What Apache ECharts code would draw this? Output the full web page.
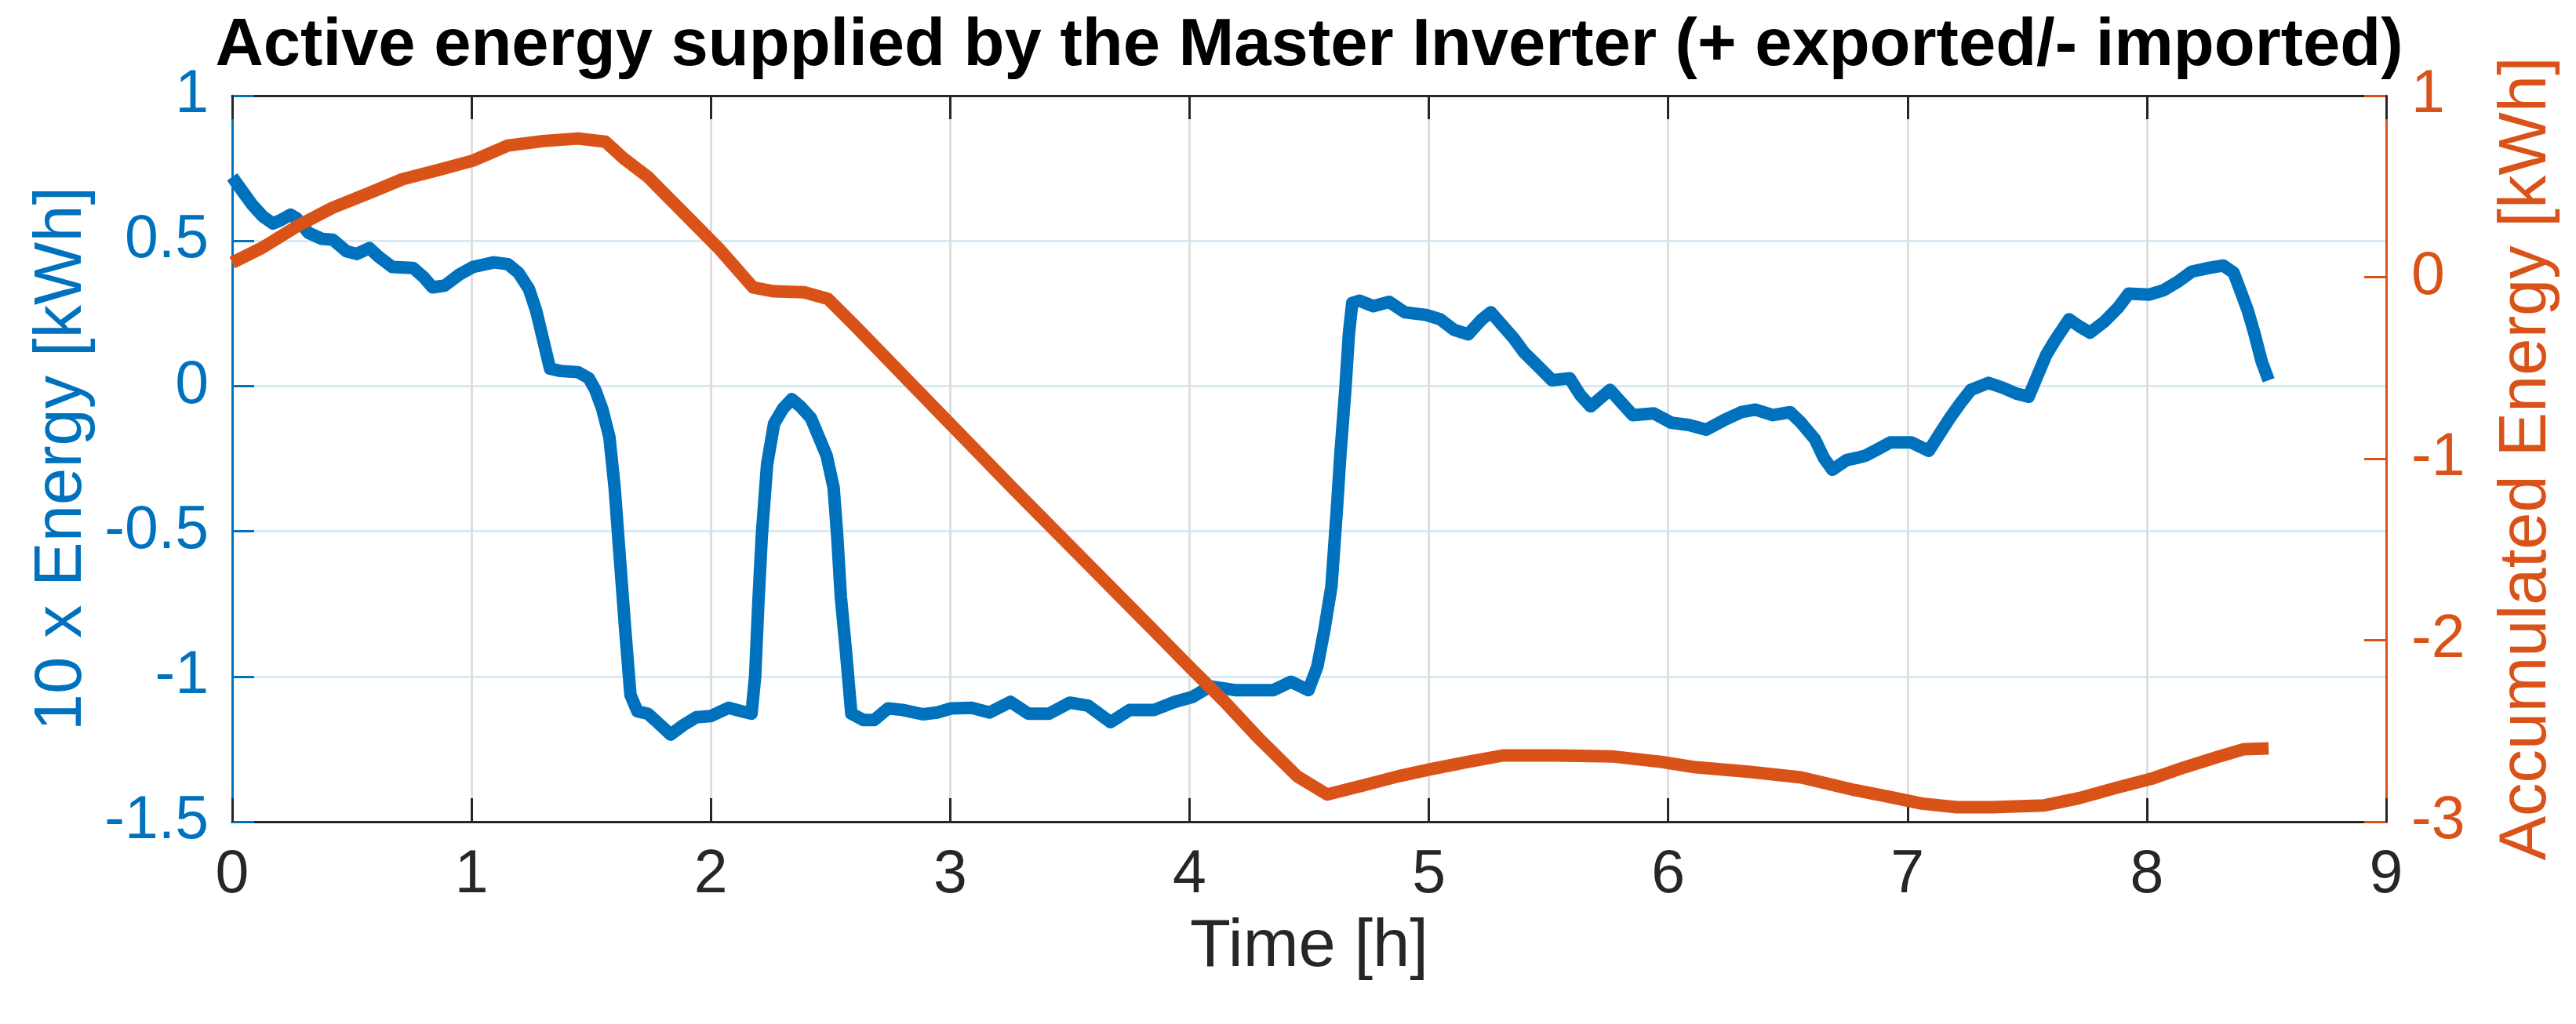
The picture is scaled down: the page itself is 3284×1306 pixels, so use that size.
<!DOCTYPE html>
<html>
<head>
<meta charset="utf-8">
<script src="https://cdn.jsdelivr.net/npm/echarts@6/dist/echarts.min.js"></script>
<style>
  html, body { margin: 0; padding: 0; background: #fff; }
  #chart { width: 3284px; height: 1306px; }
</style>
</head>
<body>
<div id="chart"></div>
<script>
// time [h] and 10 x energy [kWh] (left axis)
var energyTime = [0, 0.04, 0.083, 0.127, 0.17, 0.2, 0.244, 0.27, 0.318, 0.375, 0.42, 0.478, 0.52, 0.573, 0.61, 0.669, 0.756, 0.8, 0.837, 0.888, 0.947, 1.006, 1.093, 1.152, 1.196, 1.24, 1.27, 1.3, 1.328, 1.372, 1.445, 1.49, 1.517, 1.546, 1.576, 1.598, 1.62, 1.642, 1.664, 1.693, 1.737, 1.78, 1.832, 1.884, 1.94, 2.0, 2.074, 2.13, 2.17, 2.185, 2.198, 2.213, 2.235, 2.264, 2.301, 2.338, 2.374, 2.418, 2.455, 2.484, 2.513, 2.528, 2.543, 2.565, 2.587, 2.638, 2.682, 2.74, 2.8, 2.886, 2.945, 3.004, 3.09, 3.165, 3.252, 3.326, 3.413, 3.5, 3.575, 3.67, 3.75, 3.853, 3.94, 4.014, 4.087, 4.19, 4.292, 4.35, 4.424, 4.497, 4.534, 4.564, 4.593, 4.615, 4.63, 4.651, 4.666, 4.68, 4.71, 4.768, 4.834, 4.9, 4.988, 5.047, 5.105, 5.164, 5.222, 5.259, 5.303, 5.354, 5.398, 5.457, 5.515, 5.588, 5.632, 5.676, 5.757, 5.808, 5.852, 5.94, 6.013, 6.086, 6.159, 6.232, 6.305, 6.364, 6.437, 6.51, 6.555, 6.613, 6.65, 6.686, 6.745, 6.789, 6.826, 6.87, 6.928, 7.016, 7.089, 7.133, 7.177, 7.22, 7.265, 7.338, 7.396, 7.455, 7.506, 7.543, 7.58, 7.616, 7.675, 7.719, 7.763, 7.821, 7.88, 7.924, 8.011, 8.07, 8.129, 8.187, 8.26, 8.319, 8.363, 8.392, 8.421, 8.45, 8.48, 8.509];
var energy10x = [0.72, 0.674, 0.625, 0.585, 0.56, 0.57, 0.59, 0.577, 0.528, 0.507, 0.504, 0.464, 0.455, 0.475, 0.447, 0.41, 0.407, 0.375, 0.34, 0.346, 0.383, 0.41, 0.426, 0.42, 0.39, 0.334, 0.26, 0.157, 0.06, 0.052, 0.048, 0.027, -0.013, -0.078, -0.175, -0.35, -0.595, -0.837, -1.063, -1.12, -1.128, -1.16, -1.2, -1.168, -1.14, -1.136, -1.108, -1.12, -1.128, -1.0, -0.756, -0.514, -0.27, -0.13, -0.078, -0.045, -0.07, -0.11, -0.183, -0.24, -0.35, -0.514, -0.724, -0.918, -1.128, -1.15, -1.15, -1.11, -1.115, -1.13, -1.124, -1.11, -1.108, -1.124, -1.087, -1.128, -1.128, -1.09, -1.1, -1.157, -1.115, -1.115, -1.087, -1.07, -1.034, -1.047, -1.047, -1.047, -1.018, -1.047, -0.966, -0.837, -0.69, -0.433, -0.24, -0.013, 0.18, 0.286, 0.294, 0.275, 0.29, 0.254, 0.245, 0.23, 0.194, 0.178, 0.23, 0.254, 0.213, 0.165, 0.116, 0.068, 0.02, 0.027, -0.03, -0.07, -0.013, -0.06, -0.1, -0.094, -0.126, -0.134, -0.15, -0.118, -0.09, -0.081, -0.1, -0.09, -0.126, -0.183, -0.247, -0.288, -0.255, -0.247, -0.239, -0.22, -0.194, -0.194, -0.223, -0.166, -0.11, -0.06, -0.013, 0.011, -0.005, -0.026, -0.037, 0.036, 0.108, 0.157, 0.23, 0.205, 0.184, 0.221, 0.27, 0.318, 0.315, 0.33, 0.359, 0.394, 0.407, 0.415, 0.39, 0.326, 0.262, 0.18, 0.084, 0.02];

// time [h] and accumulated energy [kWh] (right axis)
var accTime = [0, 0.127, 0.27, 0.42, 0.566, 0.712, 0.859, 1.006, 1.152, 1.3, 1.445, 1.56, 1.635, 1.737, 1.884, 2.03, 2.177, 2.264, 2.39, 2.49, 2.609, 2.828, 3.0, 3.267, 3.56, 3.853, 4.006, 4.145, 4.292, 4.45, 4.575, 4.725, 4.871, 5.01, 5.164, 5.31, 5.53, 5.764, 5.969, 6.115, 6.335, 6.555, 6.78, 6.913, 7.06, 7.206, 7.352, 7.572, 7.718, 7.865, 8.018, 8.158, 8.304, 8.407, 8.509];
var accEnergy = [0.08, 0.163, 0.28, 0.383, 0.46, 0.54, 0.59, 0.642, 0.725, 0.75, 0.764, 0.746, 0.655, 0.552, 0.357, 0.163, -0.057, -0.078, -0.083, -0.12, -0.277, -0.575, -0.808, -1.17, -1.56, -1.95, -2.155, -2.337, -2.544, -2.75, -2.85, -2.8, -2.75, -2.71, -2.67, -2.635, -2.635, -2.64, -2.67, -2.7, -2.725, -2.756, -2.826, -2.86, -2.9, -2.92, -2.92, -2.91, -2.87, -2.816, -2.764, -2.7, -2.64, -2.6, -2.596];

var xTicks = [0, 9, 1];        // min, max, step
var leftTicks = [-1.5, 1, 0.5];
var rightTicks = [-3, 1, 1];

var blue = '#0072BD';
var orange = '#D95319';
var dark = '#262626';
var font = 'Liberation Sans, Arial, Helvetica, sans-serif';

function pairs(xs, ys) {
  var out = [];
  for (var i = 0; i < xs.length; i++) out.push([xs[i], ys[i]]);
  return out;
}

var myChart = echarts.init(document.getElementById('chart'));

var option = {
  backgroundColor: '#fff',
  animation: false,
  title: {
    text: 'Active energy supplied by the Master Inverter (+ exported/- imported)',
    left: 1669,
    top: 17,
    textAlign: 'center',
    padding: 0,
    textStyle: { fontFamily: font, fontSize: 85, fontWeight: 'bold', color: '#000' }
  },
  grid: { left: 296, right: 242, top: 122, bottom: 258, containLabel: false },
  xAxis: [{
    type: 'value',
    position: 'bottom',
    min: xTicks[0], max: xTicks[1], interval: xTicks[2],
    name: 'Time [h]',
    nameLocation: 'middle',
    nameGap: 118,
    nameTextStyle: { fontFamily: font, fontSize: 85, color: dark },
    axisLine: { show: true, onZero: false, lineStyle: { color: dark, width: 3 } },
    axisTick: { show: true, inside: true, length: 30, lineStyle: { color: dark, width: 3 } },
    axisLabel: { fontFamily: font, fontSize: 77, color: dark, margin: 30 },
    splitLine: { show: true, lineStyle: { color: '#dedede', width: 3 } }
  }, {
    type: 'value',
    position: 'top',
    min: xTicks[0], max: xTicks[1], interval: xTicks[2],
    axisLine: { show: true, onZero: false, lineStyle: { color: dark, width: 3 } },
    axisTick: { show: true, inside: true, length: 30, lineStyle: { color: dark, width: 3 } },
    axisLabel: { show: false },
    splitLine: { show: false }
  }],
  yAxis: [{
    type: 'value',
    position: 'left',
    min: leftTicks[0], max: leftTicks[1], interval: leftTicks[2],
    name: '10 x Energy [kWh]',
    nameLocation: 'middle',
    nameRotate: 90,
    nameGap: 168,
    nameTextStyle: { fontFamily: font, fontSize: 85, color: blue },
    axisLine: { show: true, onZero: false, lineStyle: { color: blue, width: 3 } },
    axisTick: { show: true, inside: true, length: 28, lineStyle: { color: blue, width: 3 } },
    axisLabel: { fontFamily: font, fontSize: 77, color: blue, margin: 30 },
    splitLine: { show: true, lineStyle: { color: '#d9eaf5', width: 3 } }
  }, {
    type: 'value',
    position: 'right',
    min: rightTicks[0], max: rightTicks[1], interval: rightTicks[2],
    name: 'Accumulated Energy [kWh]',
    nameLocation: 'middle',
    nameRotate: 90,
    nameGap: 137,
    nameTextStyle: { fontFamily: font, fontSize: 85, color: orange },
    axisLine: { show: true, onZero: false, lineStyle: { color: orange, width: 3 } },
    axisTick: { show: true, inside: true, length: 28, lineStyle: { color: orange, width: 3 } },
    axisLabel: { fontFamily: font, fontSize: 77, color: orange, margin: 32 },
    splitLine: { show: false }
  }],
  series: [{
    name: '10 x Energy',
    type: 'line',
    xAxisIndex: 0,
    yAxisIndex: 0,
    data: pairs(energyTime, energy10x),
    showSymbol: false,
    lineStyle: { color: blue, width: 16, join: 'round' },
    itemStyle: { color: blue },
    z: 3
  }, {
    name: 'Accumulated Energy',
    type: 'line',
    xAxisIndex: 0,
    yAxisIndex: 1,
    data: pairs(accTime, accEnergy),
    showSymbol: false,
    lineStyle: { color: orange, width: 16, join: 'round' },
    itemStyle: { color: orange },
    z: 4
  }]
};

myChart.setOption(option);
</script>
</body>
</html>
